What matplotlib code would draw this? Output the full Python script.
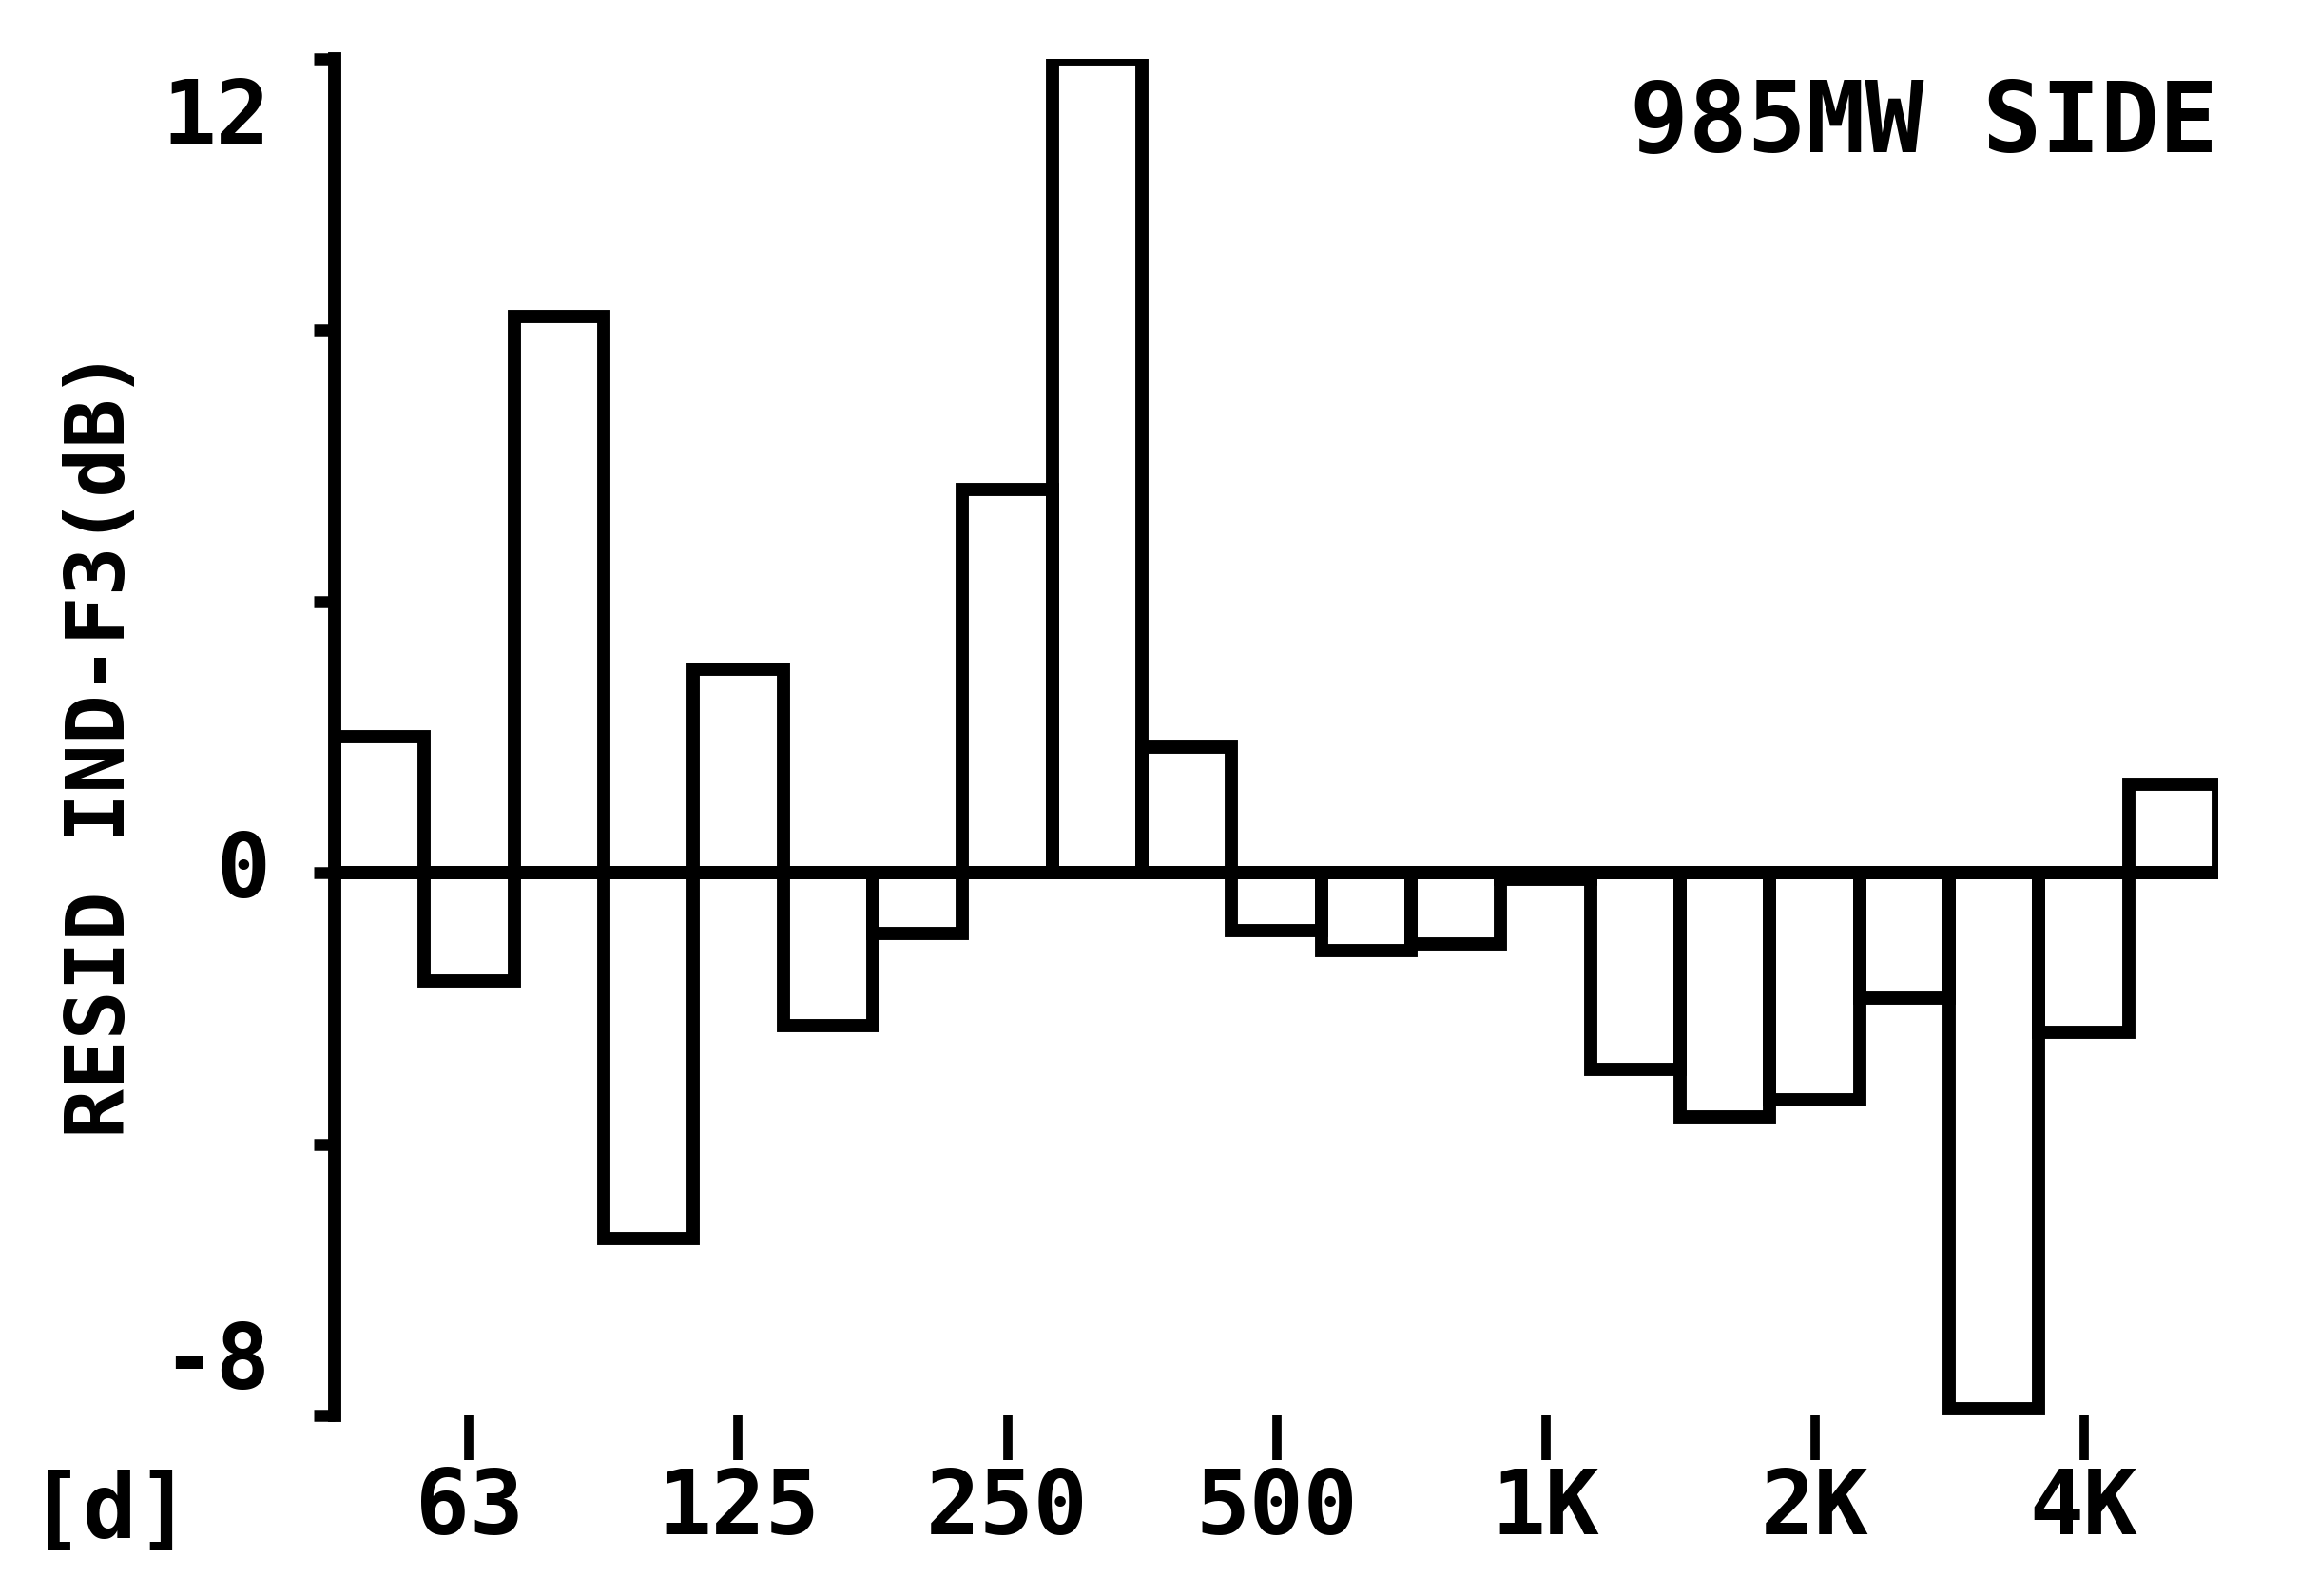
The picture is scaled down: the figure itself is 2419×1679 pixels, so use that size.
import numpy as np
import matplotlib.pyplot as plt
import matplotlib.transforms as mtransforms

# third-octave bands 50 Hz .. 5 kHz, residual level (dB)
bands = ['50', '63', '80', '100', '125', '160', '200', '250', '315', '400', '500',
         '630', '800', '1K', '1.25K', '1.6K', '2K', '2.5K', '3.15K', '4K', '5K']
resid = [2.0, -1.6, 8.2, -5.4, 3.0, -2.25, -0.9, 5.65, 12.0, 1.85, -0.85,
         -1.15, -1.05, -0.1, -2.9, -3.6, -3.35, -1.85, -7.9, -2.35, 1.3]
tick_pos = [1, 4, 7, 10, 13, 16, 19]
tick_lab = ['63', '125', '250', '500', '1K', '2K', '4K']
ylab_vals = [12, 0, -8]

plt.rcParams['font.family'] = 'DejaVu Sans Mono'
plt.rcParams['font.weight'] = 'bold'

fig = plt.figure(figsize=(24.19, 16.79), dpi=100)
ax = fig.add_axes([0.1455, 0.1132, 0.819, 0.8499])

x = np.arange(len(resid))
ax.bar(x, resid, width=1.0, fill=False, edgecolor='black', linewidth=10,
       joinstyle='miter')
ax.axhline(0, color='black', linewidth=10)

ax.set_xlim(-0.5, 20.5)
ax.set_ylim(-8, 12)

for s in ['top', 'right', 'bottom']:
    ax.spines[s].set_visible(False)
ax.spines['left'].set_linewidth(10)
ax.spines['left'].set_capstyle('projecting')

ax.set_yticks([-8, -4, 0, 4, 8, 12])
ax.set_yticklabels([])
ax.tick_params(axis='y', direction='out', length=16, width=9)

ax.set_xticks(tick_pos)
ax.set_xticklabels(tick_lab, fontsize=68, fontweight='bold')
ax.tick_params(axis='x', direction='out', length=34, width=7, pad=4)

# y value labels sit slightly inside the range ends, as in the original plot
ylab_pos = {12: 11.1, 0: 0.0, -8: -7.24}
for v in ylab_vals:
    ax.text(-1.22, ylab_pos[v], str(v), ha='right', va='center',
            fontsize=68, fontweight='bold')

trans = mtransforms.blended_transform_factory(ax.transData, ax.transAxes)
ax.text(-3.0, -0.04, '[d]', transform=trans, ha='center', va='top',
        fontsize=68, fontweight='bold')

ax.text(1.0, 0.987, '985MW SIDE', transform=ax.transAxes, ha='right', va='top',
        fontsize=74, fontweight='bold')

fig.text(108 / 2419, 1 - 782 / 1679, 'RESID IND-F3(dB)', rotation=90,
         ha='center', va='center', fontsize=62, fontweight='bold')

fig.savefig('out.png', dpi=100, facecolor='white')
